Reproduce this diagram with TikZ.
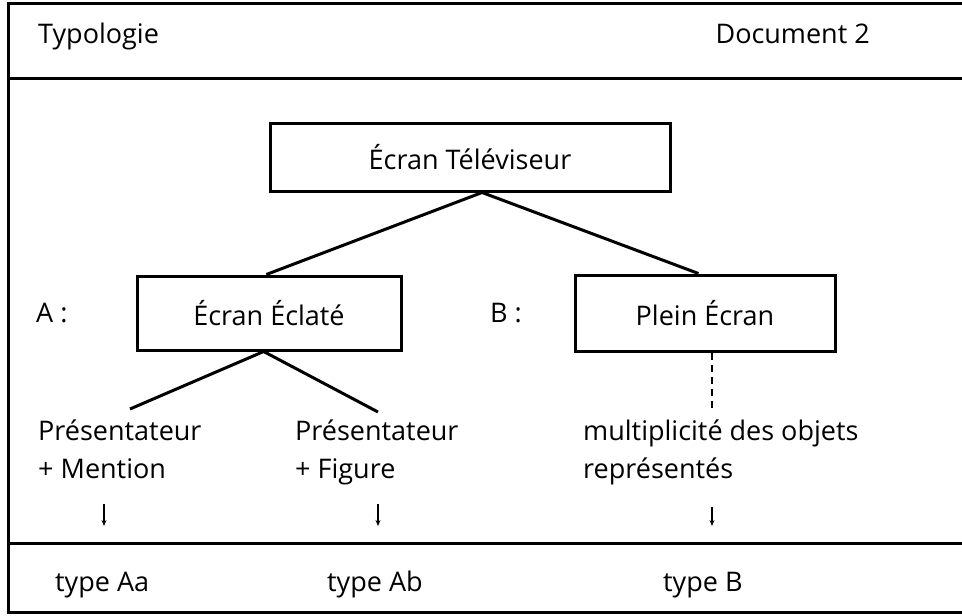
\documentclass[tikz,border=0pt]{standalone}
\usepackage{fontspec}
\setmainfont{Open Sans}
\usetikzlibrary{arrows.meta,calc}
\begin{document}
\begin{tikzpicture}[x=1pt,y=-1pt,
  frame/.style={line width=3pt},
  boxnode/.style={draw,line width=3pt,minimum height=68pt,inner sep=0pt,font=\fontsize{27}{32}\selectfont},
  txt/.style={inner sep=0pt,font=\fontsize{27}{38}\selectfont},
  branch/.style={line width=3pt},
  smallarrow/.style={line width=1.5pt,-{Stealth[length=6pt,width=5pt]}}]
\useasboundingbox (0,0) rectangle (962,616);
% frame
\draw[frame] (962,3) -- (8,3) -- (8,612) -- (962,612);
\draw[frame] (8,78) -- (962,78);
\draw[frame] (8,543) -- (962,543);
% header
\node[txt,anchor=base west] (typo) at (38,43) {Typologie};
\node[txt,anchor=base east] (doc) at (870,43) {Document 2};
% boxes
\node[boxnode,minimum width=400pt] (tele) at (470,157) {Écran Téléviseur};
\node[boxnode,minimum width=264pt,minimum height=74pt] (eclate) at (269,313) {Écran Éclaté};
\node[boxnode,minimum width=260pt,minimum height=76pt] (plein) at (705,313) {Plein Écran};
\node[txt,anchor=west] (la) at (36,313) {A :};
\node[txt,anchor=west] (lb) at (490,313) {B :};
% branches
\coordinate (apex) at ($(tele.south west)!0.53!(tele.south east)$);
\draw[branch] ($(eclate.north west)!0.49!(eclate.north east)$) -- (apex) -- ($(plein.north west)!0.475!(plein.north east)$);
% sub texts (base anchor = last line)
\node[txt,anchor=base west,align=left] (pm) at (38,478) {Présentateur\\+ Mention};
\node[txt,anchor=base west,align=left] (pf) at (295,478) {Présentateur\\+ Figure};
\node[txt,anchor=base west,align=left] (mo) at (583,478) {multiplicité des objets\\représentés};
\coordinate (ec) at ($(eclate.south west)!0.48!(eclate.south east)$);
\coordinate (e1) at (130,409);
\coordinate (e2) at (378,412);
\draw[branch] (e1) -- (ec) -- (e2);
\coordinate (d0) at ($(plein.south west)!0.527!(plein.south east)$);
\coordinate (d1) at (d0 |- 0,412);
\draw[line width=1.5pt,dash pattern=on 7pt off 5pt] (d0) -- (d1);
% small arrows
\coordinate (a1s) at (104,504); \coordinate (a1e) at (104,526);
\coordinate (a2s) at (378,504); \coordinate (a2e) at (378,526);
\coordinate (a3s) at (712,507); \coordinate (a3e) at (712,526);
\draw[smallarrow] (a1s) -- (a1e);
\draw[smallarrow] (a2s) -- (a2e);
\draw[smallarrow] (a3s) -- (a3e);
% types
\node[txt,anchor=base west] (ta) at (55,591) {type Aa};
\node[txt,anchor=base west] (tb) at (327,591) {type Ab};
\node[txt,anchor=base west] (tB) at (663,591) {type B};
\end{tikzpicture}
\end{document}
